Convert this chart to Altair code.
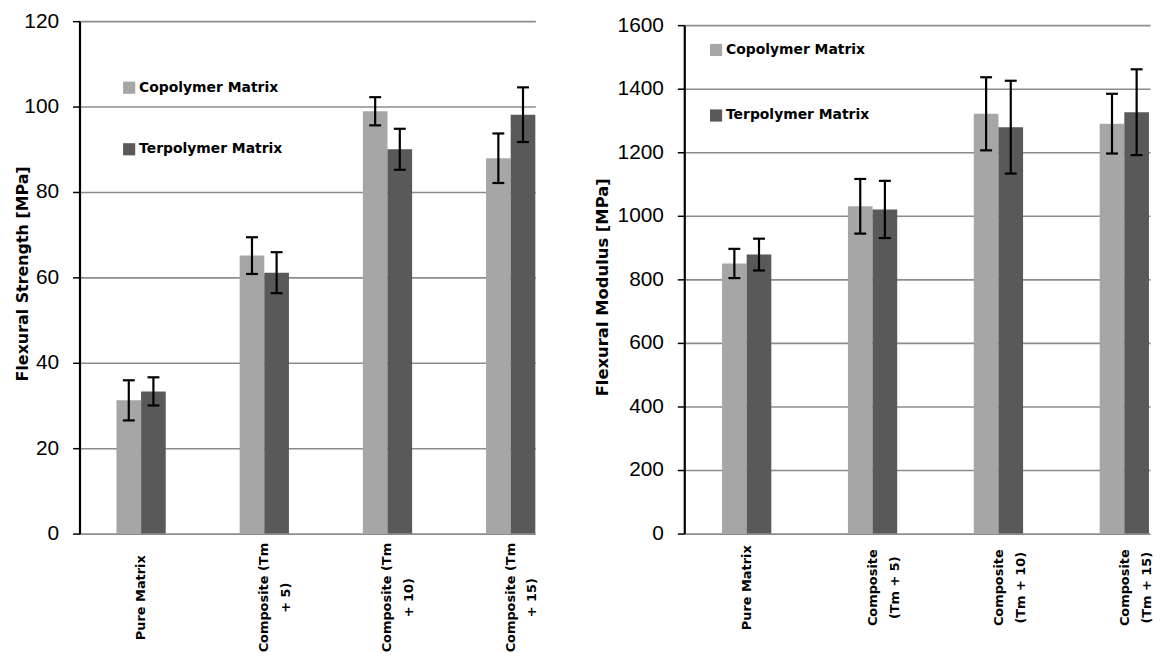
import altair as alt
import json
import pandas as pd

# ---------------- data ----------------
categories = ["Pure Matrix", "Composite (Tm + 5)", "Composite (Tm + 10)", "Composite (Tm + 15)"]
series = ["Copolymer Matrix", "Terpolymer Matrix"]
colors = ["#a6a6a6", "#595959"]

strength_copolymer = [31.2, 65.1, 98.9, 87.9]
strength_copolymer_err = [4.7, 4.3, 3.3, 5.8]
strength_terpolymer = [33.3, 61.1, 90.0, 98.1]
strength_terpolymer_err = [3.3, 4.8, 4.8, 6.4]

modulus_copolymer = [850, 1030, 1321, 1290]
modulus_copolymer_err = [46, 86, 115, 94]
modulus_terpolymer = [878, 1020, 1279, 1326]
modulus_terpolymer_err = [50, 90, 146, 135]

strength_tick_labels = [["Pure Matrix"], ["Composite (Tm", "+ 5)"],
                        ["Composite (Tm", "+ 10)"], ["Composite (Tm", "+ 15)"]]
modulus_tick_labels = [["Pure Matrix"], ["Composite", "(Tm + 5)"],
                       ["Composite", "(Tm + 10)"], ["Composite", "(Tm + 15)"]]


def make_df(copo, copo_err, ter, ter_err):
    rows = []
    for i, c in enumerate(categories):
        for s, v, e in ((series[0], copo[i], copo_err[i]), (series[1], ter[i], ter_err[i])):
            rows.append({"category": c, "series": s, "value": v, "lo": v - e, "hi": v + e})
    return pd.DataFrame(rows)


def label_expr(lines_list):
    return "%s[indexof(%s, datum.value)]" % (json.dumps(lines_list), json.dumps(categories))


def panel(df, ymax, ystep, ytitle, tick_labels, width, height, y_range,
          lx, ly, row_pad, title_x, title_y, title_size, xlab_size, xlab_pad):
    xenc = alt.X(
        "category:N", sort=categories,
        scale=alt.Scale(paddingInner=0.6, paddingOuter=0.15, align=1),
        axis=alt.Axis(title=None, labelAngle=-90, labelAlign="center", labelBaseline="middle",
                      labelExpr=label_expr(tick_labels), labelFont="DejaVu Sans",
                      labelFontWeight="bold", labelFontSize=xlab_size, labelColor="black",
                      labelPadding=xlab_pad, ticks=False, tickSize=0, domain=False, grid=False,
                      labelLineHeight=22, labelLimit=300))
    yaxis = alt.Axis(values=list(range(0, ymax + 1, ystep)), format="d", title=ytitle,
                     titleFont="DejaVu Sans", titleFontWeight="bold", titleFontSize=title_size,
                     titleColor="black", titleAngle=270, titleAlign="center",
                     titleBaseline="middle", titleX=title_x, titleY=title_y,
                     labelFont="Liberation Sans", labelFontSize=21, labelColor="black",
                     labelPadding=14, tickColor="black", tickSize=7, tickWidth=1.5,
                     domainColor="black", domainWidth=2.2, gridColor="#8c8c8c", gridWidth=1.6)
    yscale = alt.Scale(domain=[0, ymax], nice=False, range=y_range)
    xoff = alt.XOffset("series:N", sort=series, scale=alt.Scale(paddingInner=0, paddingOuter=0))

    bars = alt.Chart(df).mark_bar().encode(
        x=xenc, xOffset=xoff,
        y=alt.Y("value:Q", scale=yscale, axis=yaxis),
        color=alt.Color("series:N", scale=alt.Scale(domain=series, range=colors),
                        legend=alt.Legend(title=None, orient="none", legendX=lx, legendY=ly,
                                          direction="vertical", symbolType="square",
                                          symbolSize=150, symbolStrokeWidth=0,
                                          symbolOpacity=1,
                                          labelFont="DejaVu Sans", labelFontWeight="bold",
                                          labelFontSize=14, labelColor="black",
                                          rowPadding=row_pad, padding=0, labelOffset=3)),
    )
    stems = alt.Chart(df).mark_rule(color="black", strokeWidth=2.2).encode(
        x=xenc, xOffset=xoff,
        y=alt.Y("lo:Q", scale=yscale, axis=yaxis), y2="hi:Q",
    )
    caps = alt.Chart(df).transform_fold(["lo", "hi"], as_=["end", "pos"]).mark_tick(
        color="black", size=12, thickness=2.2, opacity=1).encode(
        x=xenc, xOffset=xoff,
        y=alt.Y("pos:Q", scale=yscale, axis=yaxis),
    )
    return alt.layer(bars, stems, caps).properties(width=width, height=height)


left = panel(make_df(strength_copolymer, strength_copolymer_err,
                     strength_terpolymer, strength_terpolymer_err),
             120, 20, "Flexural Strength [MPa]", strength_tick_labels,
             width=459, height=516, y_range=[516, 0],
             lx=43, ly=60, row_pad=48, title_x=-57.5, title_y=254, title_size=16,
             xlab_size=13, xlab_pad=64)

right = panel(make_df(modulus_copolymer, modulus_copolymer_err,
                      modulus_terpolymer, modulus_terpolymer_err),
              1600, 200, "Flexural Modulus [MPa]", modulus_tick_labels,
              width=469, height=516, y_range=[516, 4],
              lx=25, ly=22, row_pad=52, title_x=-82.5, title_y=267.5, title_size=16.5,
              xlab_size=13, xlab_pad=54)

chart = alt.hconcat(left, right, spacing=55).resolve_scale(
    color="independent").resolve_legend(color="independent").configure_view(
    stroke=None).properties(padding={"left": 6, "top": 0, "right": 0, "bottom": 0},
                            background="white")

chart.save("out.html", embed_options={"renderer": "svg", "actions": False})
